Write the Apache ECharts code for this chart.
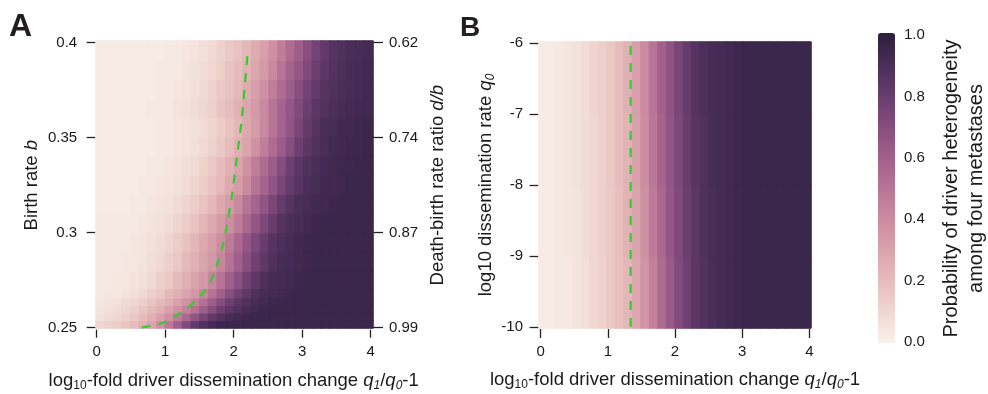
<!DOCTYPE html>
<html><head><meta charset="utf-8">
<script src="https://cdn.jsdelivr.net/npm/echarts@6/dist/echarts.min.js"></script>
<style>html,body{margin:0;padding:0;background:#fff}#c{width:988px;height:394px}</style>
</head><body><div id="c"></div>
<script>
// ---- data ----
const xBins = [0.0625,0.1875,0.3125,0.4375,0.5625,0.6875,0.8125,0.9375,1.0625,1.1875,1.3125,1.4375,1.5625,1.6875,1.8125,1.9375,2.0625,2.1875,2.3125,2.4375,2.5625,2.6875,2.8125,2.9375,3.0625,3.1875,3.3125,3.4375,3.5625,3.6875,3.8125,3.9375];
// panel A, birth-rate rows (bottom to top)
const bRowsLower = [0.252,0.256,0.260,0.264,0.268];
const bRowsUpper = [0.275,0.285,0.295,0.305,0.315,0.325,0.335,0.345,0.355,0.365,0.375,0.385,0.395];
const heatALower = [
 [0.10,0.12,0.14,0.17,0.20,0.25,0.30,0.38,0.48,0.60,0.72,0.82,0.88,0.92,0.94,0.95,0.95,0.95,0.95,0.95,0.95,0.95,0.95,0.95,0.95,0.95,0.95,0.95,0.95,0.95,0.95,0.95],
 [0.06,0.08,0.10,0.13,0.16,0.20,0.25,0.31,0.38,0.46,0.56,0.66,0.75,0.82,0.87,0.91,0.93,0.94,0.95,0.95,0.95,0.95,0.95,0.95,0.95,0.95,0.95,0.95,0.95,0.95,0.95,0.95],
 [0.05,0.06,0.08,0.10,0.13,0.17,0.21,0.25,0.31,0.37,0.44,0.52,0.61,0.70,0.78,0.84,0.88,0.91,0.93,0.94,0.95,0.95,0.95,0.95,0.95,0.95,0.95,0.95,0.95,0.95,0.95,0.95],
 [0.04,0.05,0.06,0.08,0.10,0.13,0.17,0.21,0.25,0.31,0.37,0.44,0.52,0.61,0.70,0.78,0.84,0.88,0.91,0.93,0.94,0.95,0.95,0.95,0.95,0.95,0.95,0.95,0.95,0.95,0.95,0.95],
 [0.03,0.04,0.04,0.05,0.07,0.09,0.13,0.16,0.21,0.25,0.30,0.35,0.42,0.51,0.60,0.69,0.77,0.83,0.88,0.91,0.92,0.93,0.94,0.95,0.95,0.95,0.95,0.95,0.95,0.95,0.95,0.95]
];
const heatAUpper = [
 [0.03,0.03,0.04,0.04,0.05,0.07,0.09,0.13,0.16,0.21,0.25,0.30,0.35,0.42,0.51,0.60,0.69,0.77,0.83,0.88,0.91,0.92,0.93,0.94,0.95,0.95,0.95,0.95,0.95,0.95,0.95,0.95],
 [0.03,0.03,0.03,0.04,0.04,0.05,0.07,0.09,0.13,0.16,0.21,0.25,0.30,0.35,0.42,0.51,0.60,0.69,0.77,0.83,0.88,0.91,0.92,0.93,0.94,0.95,0.95,0.95,0.95,0.95,0.95,0.95],
 [0.03,0.03,0.03,0.03,0.04,0.05,0.06,0.08,0.11,0.14,0.18,0.23,0.28,0.33,0.39,0.47,0.56,0.65,0.73,0.80,0.86,0.89,0.91,0.93,0.94,0.95,0.95,0.95,0.95,0.95,0.95,0.95],
 [0.03,0.03,0.03,0.03,0.03,0.04,0.05,0.06,0.08,0.11,0.14,0.18,0.23,0.28,0.33,0.39,0.47,0.56,0.65,0.73,0.80,0.86,0.89,0.91,0.93,0.94,0.95,0.95,0.95,0.95,0.95,0.95],
 [0.02,0.02,0.02,0.02,0.03,0.03,0.04,0.05,0.06,0.08,0.11,0.14,0.18,0.22,0.28,0.33,0.41,0.50,0.58,0.66,0.74,0.81,0.86,0.90,0.91,0.93,0.93,0.94,0.95,0.95,0.95,0.95],
 [0.02,0.02,0.02,0.02,0.02,0.03,0.03,0.04,0.05,0.06,0.08,0.11,0.14,0.18,0.22,0.28,0.33,0.41,0.50,0.58,0.66,0.74,0.81,0.86,0.90,0.91,0.93,0.93,0.94,0.95,0.95,0.95],
 [0.02,0.02,0.02,0.02,0.02,0.02,0.03,0.03,0.04,0.05,0.07,0.09,0.12,0.16,0.20,0.25,0.30,0.37,0.46,0.54,0.62,0.70,0.78,0.84,0.88,0.90,0.92,0.93,0.94,0.94,0.95,0.95],
 [0.02,0.02,0.02,0.02,0.02,0.02,0.02,0.03,0.03,0.04,0.05,0.07,0.09,0.12,0.16,0.20,0.25,0.30,0.37,0.46,0.54,0.62,0.70,0.78,0.84,0.88,0.90,0.92,0.93,0.94,0.94,0.95],
 [0.02,0.02,0.02,0.02,0.02,0.02,0.02,0.03,0.03,0.04,0.05,0.06,0.08,0.11,0.14,0.18,0.22,0.28,0.33,0.41,0.50,0.58,0.66,0.74,0.81,0.86,0.90,0.91,0.93,0.93,0.94,0.95],
 [0.02,0.02,0.02,0.02,0.02,0.02,0.03,0.03,0.03,0.05,0.06,0.08,0.10,0.13,0.17,0.20,0.24,0.29,0.34,0.41,0.50,0.58,0.65,0.72,0.79,0.84,0.87,0.89,0.91,0.92,0.93,0.93],
 [0.02,0.02,0.02,0.02,0.02,0.02,0.02,0.03,0.03,0.04,0.05,0.07,0.09,0.12,0.15,0.18,0.22,0.27,0.32,0.38,0.46,0.54,0.61,0.69,0.76,0.82,0.86,0.88,0.90,0.91,0.92,0.93],
 [0.02,0.02,0.02,0.02,0.02,0.02,0.02,0.03,0.03,0.03,0.05,0.06,0.08,0.10,0.13,0.17,0.20,0.24,0.29,0.34,0.41,0.50,0.58,0.65,0.72,0.79,0.84,0.87,0.89,0.91,0.92,0.93],
 [0.02,0.02,0.02,0.02,0.02,0.02,0.02,0.02,0.03,0.03,0.04,0.05,0.07,0.09,0.12,0.15,0.18,0.22,0.27,0.32,0.38,0.46,0.54,0.61,0.69,0.76,0.82,0.86,0.88,0.90,0.91,0.92]
];
// panel B, log10 q0 rows (bottom to top)
const q0Rows = [-9.5,-8.5,-7.5,-6.5];
const heatB = [
 [0.02,0.02,0.03,0.03,0.05,0.07,0.10,0.12,0.15,0.19,0.23,0.29,0.36,0.45,0.54,0.63,0.71,0.78,0.84,0.87,0.90,0.92,0.93,0.94,0.95,0.95,0.95,0.95,0.95,0.95,0.95,0.95],
 [0.02,0.02,0.03,0.04,0.05,0.08,0.10,0.13,0.15,0.19,0.24,0.30,0.38,0.47,0.56,0.65,0.72,0.79,0.84,0.88,0.90,0.92,0.93,0.94,0.95,0.95,0.95,0.95,0.95,0.95,0.95,0.95],
 [0.02,0.02,0.03,0.04,0.06,0.08,0.10,0.13,0.16,0.20,0.24,0.31,0.39,0.49,0.58,0.66,0.73,0.80,0.85,0.88,0.91,0.92,0.93,0.94,0.95,0.95,0.95,0.95,0.95,0.95,0.95,0.95],
 [0.02,0.02,0.03,0.04,0.06,0.08,0.11,0.13,0.16,0.20,0.25,0.32,0.40,0.50,0.59,0.67,0.74,0.81,0.86,0.89,0.91,0.92,0.93,0.94,0.95,0.95,0.95,0.95,0.95,0.95,0.95,0.95]
];
// dashed threshold curves
const aLineX = [0.656,0.91,0.97,1.24,1.48,1.65,1.82,1.895,1.97,2.04,2.11,2.16,2.21];
const aLineY = [0.2500,0.2520,0.2526,0.2582,0.2655,0.2734,0.2905,0.3030,0.3185,0.3380,0.3575,0.3770,0.3968];
const bLineX = [1.34,1.34];
const bLineY = [-10,-6];
// tick labels
const aXTicks = ['0','1','2','3','4'];
const aLeftTicks = ['0.25','0.3','0.35','0.4'];
const aRightTicks = ['0.99','0.87','0.74','0.62'];
const bYTicks = ['-10','-9','-8','-7','-6'];
const cbTicks = ['0.0','0.2','0.4','0.6','0.8','1.0'];

// ---- styling ----
const FF = '"Liberation Sans", Arial, Helvetica, sans-serif';
const INK = '#1a1a1a';
function cubehelix(v){
  const x = 0.95 - 0.8*v;
  const phi = 2*Math.PI*(0.4*x);
  const a = 0.8*x*(1-x)/2;
  const c = Math.cos(phi), s = Math.sin(phi);
  const r = x + a*(-0.14861*c + 1.78277*s);
  const g = x + a*(-0.29227*c - 0.90649*s);
  const b = x + a*(1.97294*c);
  const h = t => ('0'+Math.round(Math.max(0,Math.min(1,t))*255).toString(16)).slice(-2);
  return '#'+h(r)+h(g)+h(b);
}
const stops = [];
for (let i=0;i<=20;i++) stops.push(cubehelix(i/20));

function cells(rows){
  const out=[];
  rows.forEach((row,yi)=>row.forEach((v,xi)=>{
    const col = cubehelix(v);
    out.push({value:[xi,yi,v], itemStyle:{color:col, borderColor:col, borderWidth:1}});
  }));
  return out;
}
function pts(xs,ys){ return xs.map((x,i)=>[x,ys[i]]); }

const tickLabel = {color:INK, fontFamily:FF, fontSize:15};
const tickStyle = {lineStyle:{color:'#222', width:1.3}};
const nameRich = {
  n:{fontFamily:FF, fontSize:18.5, color:INK, lineHeight:22},
  i:{fontFamily:FF, fontSize:18.5, color:INK, fontStyle:'italic', lineHeight:22},
  s:{fontFamily:FF, fontSize:12, color:INK, lineHeight:12, verticalAlign:'bottom'},
  si:{fontFamily:FF, fontSize:12, color:INK, fontStyle:'italic', lineHeight:12, verticalAlign:'bottom'}
};
const xName = '{n|log}{s|10}{n|-fold driver dissemination change }{i|q}{si|1}{n|/}{i|q}{si|0}{n|-1}';
const hidden = {show:false};

function hiddenCat(grid, data){
  return {type:'category', gridIndex:grid, data:data.map(String), show:false, boundaryGap:true};
}
function g(left, top, width, height){
  return {left, top, width, height, outerBoundsMode:'none', containLabel:false};
}
const heatBase = {type:'heatmap', progressive:0, emphasis:{disabled:true}, silent:true};

const option = {
  animation:false,
  backgroundColor:'#fff',
  grid:[
    g(96, 41, 277, 249),
    g(96, 290, 277, 38),
    g(96.7, 42.7, 274, 285),
    g(539, 42, 272, 286),
    g(540.6, 43, 268.8, 284),
    g(878, 35, 17, 307)
  ],
  xAxis:[
    hiddenCat(0, xBins),
    hiddenCat(1, xBins),
    {type:'value', gridIndex:2, min:0, max:4, interval:1, offset:2,
     axisLine:hidden, splitLine:hidden, axisTick:Object.assign({show:true,length:8},tickStyle),
     axisLabel:Object.assign({margin:15, formatter:v=>aXTicks[Math.round(v)]},tickLabel),
     name:xName, nameLocation:'middle', nameGap:40, nameTextStyle:{rich:nameRich}},
    hiddenCat(3, xBins),
    {type:'value', gridIndex:4, min:0, max:4, interval:1, offset:2,
     axisLine:hidden, splitLine:hidden, axisTick:Object.assign({show:true,length:9},tickStyle),
     axisLabel:Object.assign({margin:15, formatter:v=>aXTicks[Math.round(v)]},tickLabel),
     name:xName, nameLocation:'middle', nameGap:40, nameTextStyle:{rich:nameRich}},
    {type:'value', gridIndex:5, min:0, max:1, show:false}
  ],
  yAxis:[
    hiddenCat(0, bRowsUpper),
    hiddenCat(1, bRowsLower),
    {type:'value', gridIndex:2, position:'left', min:0.25, max:0.4, interval:0.05, offset:1.5,
     axisLine:hidden, splitLine:hidden, axisTick:Object.assign({show:true,length:10},tickStyle),
     axisLabel:Object.assign({margin:18, formatter:v=>aLeftTicks[Math.round((v-0.25)/0.05)]},tickLabel),
     name:'{n|Birth rate }{i|b}', nameLocation:'middle', nameGap:52, nameTextStyle:{rich:nameRich}},
    {type:'value', gridIndex:2, position:'right', min:0.25, max:0.4, interval:0.05, offset:2.3,
     axisLine:hidden, splitLine:hidden, axisTick:Object.assign({show:true,length:10},tickStyle),
     axisLabel:Object.assign({margin:16, formatter:v=>aRightTicks[Math.round((v-0.25)/0.05)]},tickLabel),
     name:'{n|Death-birth rate ratio }{i|d/b}', nameLocation:'middle', nameGap:54, nameTextStyle:{rich:nameRich}},
    hiddenCat(3, q0Rows),
    {type:'value', gridIndex:4, position:'left', min:-10, max:-6, interval:1, offset:2.6,
     axisLine:hidden, splitLine:hidden, axisTick:Object.assign({show:true,length:11},tickStyle),
     axisLabel:Object.assign({margin:15, formatter:v=>bYTicks[Math.round(v+10)]},tickLabel),
     name:'{n|log10 dissemination rate }{i|q}{si|0}', nameLocation:'middle', nameGap:41, nameTextStyle:{rich:nameRich}},
    {type:'value', gridIndex:5, position:'right', min:0, max:1, interval:0.2,
     axisLine:hidden, splitLine:hidden, axisTick:hidden,
     axisLabel:Object.assign({margin:9, formatter:v=>cbTicks[Math.round(v/0.2)]},tickLabel),
     name:'Probability of driver heterogeneity\namong four metastases', nameLocation:'middle', nameGap:44,
     nameTextStyle:{fontFamily:FF, fontSize:20, color:INK, lineHeight:25, align:'center'}}
  ],
  visualMap:[{
    type:'continuous', min:0, max:1, seriesIndex:[5], orient:'vertical',
    left:878, top:33, itemWidth:17, itemHeight:310, padding:0,
    calculable:false, hoverLink:false, text:null,
    inRange:{color:stops}
  }],
  series:[
    Object.assign({xAxisIndex:0, yAxisIndex:0, data:cells(heatAUpper)}, heatBase),
    Object.assign({xAxisIndex:1, yAxisIndex:1, data:cells(heatALower)}, heatBase),
    Object.assign({xAxisIndex:3, yAxisIndex:4, data:cells(heatB)}, heatBase),
    {type:'line', xAxisIndex:2, yAxisIndex:2, data:pts(aLineX,aLineY), smooth:0.3, showSymbol:false, silent:true, z:5,
     lineStyle:{color:'#33cc33', width:2.2, type:[9,8]}},
    {type:'line', xAxisIndex:4, yAxisIndex:5, data:pts(bLineX,bLineY), showSymbol:false, silent:true, z:5,
     lineStyle:{color:'#33cc33', width:2.2, type:[9,8]}},
    {type:'scatter', xAxisIndex:5, yAxisIndex:6, data:[], silent:true}
  ],
  graphic:[
    {type:'text', left:9, top:11, style:{text:'A', font:'bold 32px '+FF, fill:'#231f20'}},
    {type:'text', left:460, top:14, style:{text:'B', font:'bold 28px '+FF, fill:'#231f20'}}
  ]
};
const chart = echarts.init(document.getElementById('c'), null, {renderer:'canvas'});
chart.setOption(option);
</script>
</body></html>
